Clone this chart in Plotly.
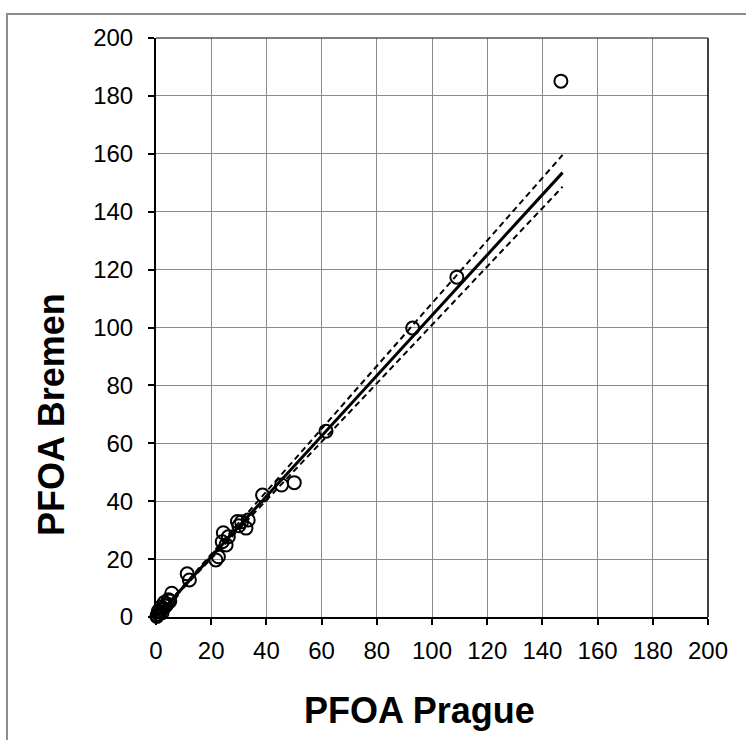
import plotly.graph_objects as go

# Data
prague = [146.7, 109.0, 93.0, 61.6, 50.1, 45.5, 38.6, 33.4, 31.0, 32.6, 30.0, 29.5,
          26.2, 24.4, 25.4, 24.0, 22.6, 21.7, 11.3, 12.1, 5.7, 4.5, 4.0, 3.0, 2.5,
          2.0, 1.5, 1.0, 0.5, 0.8, 1.8, 3.5, 0.3, 2.2, 5.0]
bremen = [185.1, 117.4, 99.8, 64.2, 46.4, 45.6, 42.1, 33.5, 32.9, 30.7, 31.5, 33.0,
          27.7, 29.1, 24.9, 26.0, 20.8, 19.7, 14.9, 12.8, 8.2, 6.0, 4.5, 5.0, 3.0,
          2.5, 1.8, 1.0, 0.5, 2.0, 3.5, 3.8, 0.2, 1.5, 5.5]

fit_x = [0, 147.3]
fit_y = [0, 153.5]
upper_y = [0, 159.6]
lower_y = [0, 148.6]

ticks = [0, 20, 40, 60, 80, 100, 120, 140, 160, 180, 200]
x_title = "PFOA Prague"
y_title = "PFOA Bremen"

FONT = "Liberation Sans, Arial, sans-serif"

fig = go.Figure()
fig.add_trace(go.Scatter(x=prague, y=bremen, mode="markers", cliponaxis=False,
                         marker=dict(symbol="circle-open", size=13,
                                     color="black", line=dict(width=2, color="black")),
                         showlegend=False))
fig.add_trace(go.Scatter(x=fit_x, y=fit_y, mode="lines",
                         line=dict(color="black", width=3), showlegend=False))
fig.add_trace(go.Scatter(x=fit_x, y=upper_y, mode="lines",
                         line=dict(color="black", width=2, dash="6px,4px"), showlegend=False))
fig.add_trace(go.Scatter(x=fit_x, y=lower_y, mode="lines",
                         line=dict(color="black", width=2, dash="6px,4px"), showlegend=False))

axis_common = dict(range=[0, 200], tickvals=ticks, ticktext=[str(t) for t in ticks],
                   showgrid=True, gridcolor="#8c8c8c", gridwidth=1, zeroline=False,
                   showline=True, linecolor="black", linewidth=2,
                   ticks="outside", ticklen=6, tickwidth=2, tickcolor="black",
                   tickfont=dict(family=FONT, size=24, color="black"))

fig.update_layout(
    width=746, height=740,
    margin=dict(l=156, r=38, t=38, b=123),
    paper_bgcolor="white", plot_bgcolor="white",
    xaxis=dict(**axis_common, ticklabelstandoff=5),
    yaxis=dict(**axis_common, ticklabelstandoff=10),
    annotations=[
        dict(text="<b>%s</b>" % x_title, xref="paper", yref="paper",
             x=0.478, y=-0.161, xanchor="center", yanchor="middle", showarrow=False,
             font=dict(family=FONT, size=36, color="black")),
        dict(text="<b>%s</b>" % y_title, xref="paper", yref="paper", textangle=-90,
             x=-0.1884, y=0.349, xanchor="center", yanchor="middle", showarrow=False,
             font=dict(family=FONT, size=36, color="black")),
    ],
    shapes=[
        dict(type="rect", xref="paper", yref="paper", x0=-0.270, x1=1.3, y0=-0.4, y1=1.0415,
             line=dict(color="#8c8c8c", width=2), layer="below"),
        dict(type="line", xref="paper", yref="paper", x0=1, x1=1, y0=0, y1=1,
             line=dict(color="black", width=1.5)),
        dict(type="line", xref="paper", yref="paper", x0=0, x1=1, y0=1, y1=1,
             line=dict(color="#555555", width=1.5)),
    ],
)

fig.write_html("out.html")
